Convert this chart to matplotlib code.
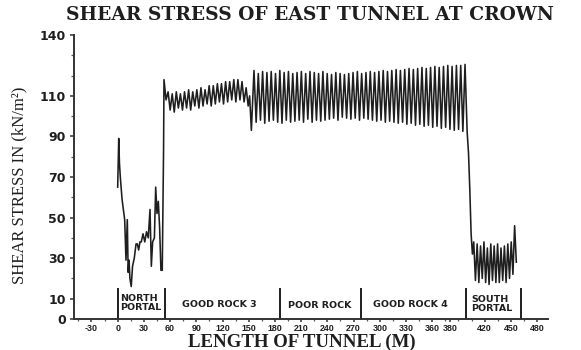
import numpy as np
import matplotlib
matplotlib.use("Agg")
import matplotlib.pyplot as plt
from matplotlib.ticker import MultipleLocator, FixedLocator

# ---- shear stress along the crown (kN/m^2) vs chainage (m) ----
# north portal, read station by station
north_x = [0, 1.2, 2, 3, 5, 8, 9.5, 11, 12, 13, 14, 15.5, 17, 19, 21, 22.5, 24,
           25.5, 27, 29, 31, 33, 35, 37, 38.5, 40, 42, 43.5, 45, 46.5, 48, 49.5,
           51, 52.5]
north_y = [65, 89, 77, 70, 59, 49, 29, 49, 23, 29, 20, 16, 26, 30, 37, 37, 34,
           38, 38, 42, 38, 43, 40, 54, 26, 38, 40, 65, 52, 58, 45, 24,
           24, 83]

# good rock 3, regular stations
rock3_start, rock3_step = 53.0, 2.35
rock3_y = [118, 108, 112, 103, 111, 102, 112, 104, 111, 103, 112, 104, 113, 103,
           112, 105, 113, 104, 114, 105, 113, 106, 115, 105, 115, 106, 116, 107,
           116, 106, 117, 107, 117, 108, 118, 107, 118, 108, 117, 107, 114, 105]

# dip before the poor rock zone
dip_x = [151, 153]
dip_y = [110, 93]

# poor rock + good rock 4: alternating crest / trough stations
mid_start, mid_step = 156.0, 2.4646
mid_peaks = [122.5, 121, 122, 121.5, 122, 121, 122.5, 121.5, 122, 121,
             121.5, 122, 121, 122, 121.5, 121, 122, 121, 120.5, 121.5,
             121, 120.5, 121, 121.5, 122, 121, 121.5, 122, 121.5, 122,
             122.5, 122, 122.5, 123, 122.5, 123, 123.5, 123, 123.5, 124,
             123.5, 124, 124.5, 124, 124.5, 125, 124.5, 125, 125, 125.5]
mid_troughs = [97, 98, 96.5, 97.5, 98, 97, 96.5, 98, 97, 97.5,
               98, 97, 98.5, 97, 98, 97.5, 98, 98.5, 99, 98,
               99.5, 99, 98.5, 99, 98, 99, 98.5, 98, 97.5, 98,
               97, 97.5, 97, 96.5, 97, 96, 96.5, 95.5, 96, 95,
               95.5, 94.5, 95, 94, 94.5, 93.5, 93, 93.5, 92.5, 92]

# drop into the south portal
drop_x = [401.5, 403, 404.5, 406]
drop_y = [82, 64, 42, 32]

# south portal
south_start, south_step = 407.5, 1.95
south_y = [38, 19, 37, 18, 36, 20, 38, 18, 35, 17, 37, 19, 36, 18, 37, 18, 35,
           19, 36, 18, 37, 20, 38, 22, 46, 28]

# geology zones
zone_bounds = [0, 54.6, 185.6, 278.3, 398.3, 461.3]
zone_names = ["NORTH\nPORTAL", "GOOD ROCK 3", "POOR ROCK", "GOOD ROCK 4", "SOUTH\nPORTAL"]

xtick_vals = [-30, 0, 30, 60, 90, 120, 150, 180, 210, 240, 270, 300, 330, 360, 380, 420, 450, 480]
ytick_vals = [0, 10, 30, 50, 70, 90, 110, 140]


def stations(start, step, n):
    return list(start + step * np.arange(n))


mid_y = list(np.column_stack([mid_peaks, mid_troughs]).ravel())
x = (north_x + stations(rock3_start, rock3_step, len(rock3_y)) + dip_x
     + stations(mid_start, mid_step, len(mid_y)) + drop_x
     + stations(south_start, south_step, len(south_y)))
y = north_y + rock3_y + dip_y + mid_y + drop_y + south_y

fig = plt.figure(figsize=(5.81, 3.5), dpi=100)
ax = fig.add_axes([74 / 581, 31 / 350, (548 - 74) / 581, (319 - 35) / 350])

ink = "#1e1e1e"
ax.plot(x, y, color=ink, lw=1.15)

# zone separators and names
for b in zone_bounds:
    ax.plot([b, b], [0, 14.6], color=ink, lw=1.4, clip_on=False)
lab_font = dict(family="DejaVu Sans", weight="bold", fontsize=6.8, color=ink)
ax.text(2.5, 7.7, zone_names[0], ha="left", va="center", linespacing=1.0, **lab_font)
ax.text(116.8, 7.2, zone_names[1], ha="center", va="center", **lab_font)
ax.text(230.8, 6.7, zone_names[2], ha="center", va="center", **lab_font)
ax.text(335.4, 7.0, zone_names[3], ha="center", va="center", **lab_font)
ax.text(404.5, 7.3, zone_names[4], ha="left", va="center", linespacing=1.0, **lab_font)

ax.set_xlim(-50, 492.5)
ax.set_ylim(0, 140)
for side in ("top", "right"):
    ax.spines[side].set_visible(False)
for side in ("left", "bottom"):
    ax.spines[side].set_linewidth(1.4)
    ax.spines[side].set_color("#333333")

ax.xaxis.set_major_locator(FixedLocator(xtick_vals))
ax.set_xticklabels([str(v) for v in xtick_vals])
ax.xaxis.set_minor_locator(MultipleLocator(15))
ax.yaxis.set_major_locator(FixedLocator(ytick_vals))
ax.set_yticklabels([str(v) for v in ytick_vals])
ax.yaxis.set_minor_locator(MultipleLocator(10))
ax.tick_params(axis="y", which="major", length=3, width=1.1, color="#333333", pad=3)
ax.tick_params(axis="y", which="minor", length=2, width=0.9, color="#555555")
ax.tick_params(axis="x", which="major", length=2, width=1.1, color="#333333", pad=1.5)
ax.tick_params(axis="x", which="minor", length=1.5, width=0.9, color="#555555")
for t in ax.get_xticklabels():
    t.set_fontfamily("Liberation Sans")
    t.set_fontweight("bold")
    t.set_fontsize(6.4)
    t.set_color(ink)
for t in ax.get_yticklabels():
    t.set_fontfamily("DejaVu Sans")
    t.set_fontweight("bold")
    t.set_fontsize(9)
    t.set_color(ink)

fig.text(0.534, 0.958, "SHEAR STRESS OF EAST TUNNEL AT CROWN", ha="center", va="center",
         family="DejaVu Serif", weight="bold", fontsize=13.4, color=ink)
fig.text(0.52, 0.022, "LENGTH OF TUNNEL (M)", ha="center", va="center",
         family="Liberation Serif", weight="bold", fontsize=13.6, color=ink)
fig.text(0.034, 0.47, "SHEAR STRESS IN (kN/m\u00b2)", ha="center", va="center", rotation=90,
         family="Liberation Serif", fontsize=12, color=ink)

fig.savefig("out.png", dpi=100)
